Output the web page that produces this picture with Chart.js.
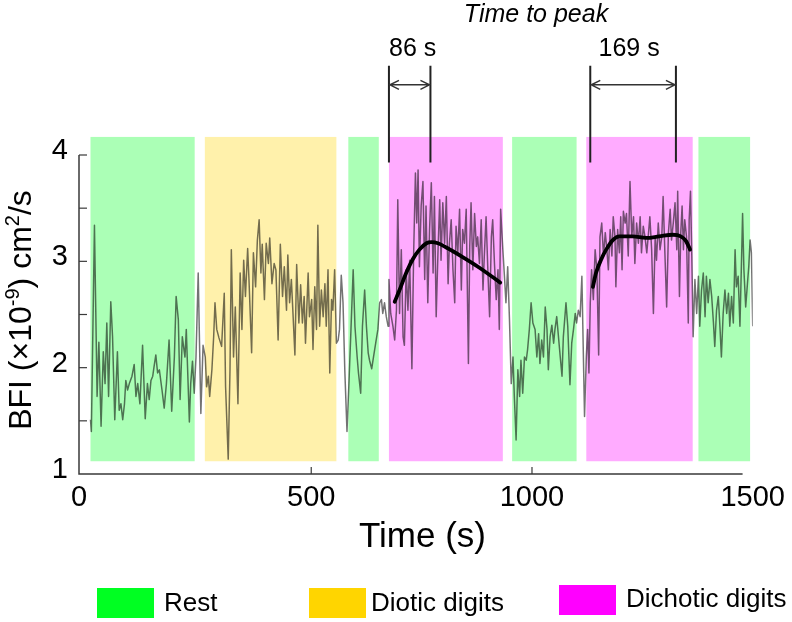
<!DOCTYPE html>
<html><head><meta charset="utf-8">
<script src="https://cdn.jsdelivr.net/npm/chart.js@4.4.1/dist/chart.umd.min.js"></script>
<style>html,body{margin:0;padding:0;background:#fff;}#wrap{width:792px;height:622px;position:relative;}</style>
</head><body><div id="wrap"><canvas id="c" width="792" height="622"></canvas></div>
<script>
// ---- data ----
const bfiTime = [0,2,9,15,19,24,29,33,37,41,46,50,55,61,65,69,73,77,80,84,88,94,99,103,107,112,118,124,129,133,137,141,144,148,152,156,162,167,172,178,184,190,194,199,203,208,214,217,224,227,231,235,239,244,250,255,260,263,267,270,275,279,282,286,291,297,303,306,312,316,319,324,328,334,339,343,347,351,356,359,365,369,374,378,382,386,389,394,398,403,406,411,416,420,425,430,435,439,444,447,451,455,459,463,467,472,476,480,484,487,493,496,501,
504,508,512,515,519,523,527,531,534,538,542,546,549,553,557,561,564,568,572,576,581,586,590,595,599,604,607,612,616,621,625,629,632,637,641,646,651,655,659,662,666,670,674,676,680,685,689,693,696,700,704,708,711,715,719,723,728,732,736,739,742,745,749,753,757,760,764,768,772,776,779,783,787,791,794,798,802,806,810,813,817,821,825,828,832,836,840,843,847,851,856,859,862,866,870,874,877,881,885,889,892,896,900,904,908,911,915,919,923,926,929,934,938,941,945,949,953,957,960,964,968,972,975,979,983,987,990,994,998,1002,
1007,1011,1015,1018,1022,1026,1030,1034,1037,1041,1045,1049,1052,1056,1060,1064,1068,1071,1077,1081,1086,1090,1094,1098,1101,1105,1109,1113,1117,1119,1123,1126,1129,1132,1135,1139,1143,1147,1151,1154,1158,1162,1166,1169,1173,1177,1181,1184,1188,1190,1194,1198,1201,1204,1207,1211,1214,1218,1222,1226,1230,1233,1237,1241,1245,1248,1252,1256,1260,1264,1267,1271,1275,1279,1282,1286,1290,1294,1297,1301,1305,1309,1313,1316,1320,1324,1328,1330,1334,1337,1340,1343,1346,1350,1354,1356,1359,1362,1365,1369,1373,1377,1380,1384,1388,1392,1395,1399,1403,1407,1411,1414,1418,1422,1426,1429,1433,1437,1441,1445,1448,1452,1456,1460,1463,1467,1471,1475,1477,1480,1484,1488,1491,1494,1497,1500];
const bfiValue = [1.51,1.40,3.34,1.73,2.24,1.45,2.15,1.85,2.42,1.73,2.62,2.29,1.51,2.15,1.60,1.66,1.51,1.66,1.88,1.79,1.85,1.92,2.03,1.73,1.85,1.66,2.21,1.52,1.85,1.70,1.88,1.92,2.01,2.12,1.95,1.98,1.79,1.62,1.85,2.26,1.59,2.10,2.67,2.45,1.70,2.29,2.10,2.36,1.49,1.85,2.06,1.76,2.10,2.89,1.57,2.21,2.10,1.82,1.92,1.73,1.98,2.29,2.61,2.36,2.28,2.20,2.70,1.82,1.14,1.98,3.11,2.10,2.57,1.66,2.89,2.36,3.01,2.67,3.12,2.83,2.14,3.08,2.76,3.20,3.39,2.89,3.16,2.64,3.17,2.98,3.22,2.79,2.98,2.92,2.26,3.16,2.67,2.95,2.54,3.06,2.61,2.83,2.48,2.12,2.97,2.42,2.78,2.42,2.67,2.23,2.89,2.48,2.64,
2.17,2.76,2.36,3.34,2.39,2.73,2.48,2.79,2.39,2.92,1.95,2.64,2.54,2.92,2.23,2.26,2.36,2.87,2.61,1.98,1.40,1.92,2.36,2.92,2.39,2.10,1.95,1.76,2.39,2.73,2.39,2.14,2.07,1.99,2.10,2.23,2.36,2.61,2.64,2.51,2.61,2.48,2.39,2.83,2.51,2.39,2.26,2.54,3.58,2.51,3.11,2.29,2.21,2.92,2.54,3.01,1.99,3.08,3.83,3.36,3.86,2.95,3.52,3.75,2.83,3.52,2.61,3.30,3.74,2.89,3.61,2.48,3.08,3.58,3.01,3.55,3.17,3.61,2.79,3.17,3.39,2.92,2.61,3.33,3.08,3.49,2.73,3.30,3.17,3.49,2.04,3.14,3.55,2.92,3.45,3.14,3.23,2.98,3.39,2.73,3.05,3.42,2.92,2.48,3.23,3.39,2.98,2.64,2.92,2.36,3.49,3.11,2.83,2.61,2.95,2.45,1.85,2.10,1.73,1.32,1.98,1.73,2.07,1.76,2.10,2.07,2.17,2.36,2.61,2.42,
2.36,2.10,2.32,2.04,2.26,2.10,2.57,2.36,1.98,2.29,2.40,2.23,2.36,2.48,2.29,2.10,1.92,2.29,2.61,2.39,1.84,2.23,2.36,2.51,2.42,2.54,2.48,2.86,1.98,1.54,2.10,2.36,1.95,2.61,2.92,2.64,3.11,2.92,2.12,3.23,3.36,3.05,3.27,3.14,2.92,3.30,3.05,3.42,3.23,2.76,3.30,3.08,3.42,2.92,3.47,3.36,3.45,3.05,3.75,3.23,3.42,2.98,3.36,3.17,3.42,3.08,3.33,3.23,3.08,3.27,3.42,3.11,2.51,3.23,3.01,3.36,3.11,3.23,3.61,3.08,2.57,3.27,3.49,3.20,3.36,3.55,3.11,3.66,2.67,3.27,3.52,3.11,3.39,3.23,2.42,3.39,3.66,3.05,2.29,2.83,2.51,2.86,2.39,2.73,2.89,2.48,2.86,2.61,2.83,2.67,2.42,2.20,2.54,2.67,2.36,2.10,2.51,2.73,2.51,2.70,2.39,2.67,2.42,3.11,2.76,2.86,2.39,3.08,3.45,2.92,2.57,2.79,2.95,3.20,3.08,2.39];

const fit1Time  = [689,700,715,730,745,761,772,787,806,843,881,928];
const fit1Value = [2.62,2.73,2.89,3.02,3.11,3.17,3.18,3.17,3.13,3.04,2.94,2.80];
const fit2Time  = [1138,1145,1157,1168,1183,1198,1228,1259,1288,1319,1337,1349,1358];
const fit2Value = [2.76,2.89,3.02,3.11,3.20,3.235,3.235,3.22,3.235,3.25,3.235,3.19,3.11];

const bandStart = [0,259,584,676,955,1123,1377];
const bandEnd   = [236,557,653,934,1101,1364,1494];
const bandCondition = ['Rest','Diotic digits','Rest','Dichotic digits','Rest','Dichotic digits','Rest'];

const legendLabels = ['Rest','Diotic digits','Dichotic digits'];
const legendColors = ['#00ff22','#ffd500','#ff00ff'];

const ttpStart  = [676,1132];
const ttpEnd    = [770,1326];
const ttpLabels = ['86 s','169 s'];
const ttpTitle  = 'Time to peak';

const xTickValues = [-26,500,1000,1500];
const xTickLabels = ['0','500','1000','1500'];
const yTickValues = [1,2,3,4];
const yMinorTicks = [1.5,2,2.5,3,3.5,4];
const xMinorTicks = [500,1000];

// ---- drawing ----
const FONT = '"Liberation Sans", Arial, Helvetica, sans-serif';
function rgba(hex,a){const n=parseInt(hex.slice(1),16);return `rgba(${(n>>16)&255},${(n>>8)&255},${n&255},${a})`;}
function condColor(c){return legendColors[legendLabels.indexOf(c)];}

const decor = {
  id:'decor',
  beforeDatasetsDraw(chart){
    const {ctx, scales:{x,y}} = chart;
    ctx.save();
    const top = y.getPixelForValue(4.17), bot = y.getPixelForValue(1.12);
    bandStart.forEach((s,i)=>{
      const l = x.getPixelForValue(s), r = x.getPixelForValue(bandEnd[i]);
      ctx.fillStyle = rgba(condColor(bandCondition[i]), 0.33);
      ctx.fillRect(l, top, r-l, bot-top);
    });
    ctx.restore();
  },
  afterDraw(chart){
    const {ctx, chartArea, scales:{x,y}} = chart;
    ctx.save();
    // axes
    ctx.strokeStyle = '#3a3a3a'; ctx.lineWidth = 1.5;
    const ax = chartArea.left, ay = y.getPixelForValue(1);
    ctx.beginPath();
    ctx.moveTo(ax, y.getPixelForValue(4)); ctx.lineTo(ax, ay);
    ctx.lineTo(x.getPixelForValue(1477), ay);
    ctx.stroke();
    ctx.lineWidth = 1.2;
    yMinorTicks.forEach(v=>{const p=y.getPixelForValue(v);ctx.beginPath();ctx.moveTo(ax,p);ctx.lineTo(ax+8,p);ctx.stroke();});
    xMinorTicks.forEach(v=>{const p=x.getPixelForValue(v);ctx.beginPath();ctx.moveTo(p,ay);ctx.lineTo(p,ay-7);ctx.stroke();});

    // time-to-peak annotations
    const yT = y.getPixelForValue(4.84), yB = y.getPixelForValue(3.93), yA = y.getPixelForValue(4.66);
    ctx.fillStyle = '#000';
    ttpStart.forEach((s,i)=>{
      const a = x.getPixelForValue(s), b = x.getPixelForValue(ttpEnd[i]);
      ctx.strokeStyle = '#222'; ctx.lineWidth = 2;
      ctx.beginPath(); ctx.moveTo(a,yT); ctx.lineTo(a,yB); ctx.moveTo(b,yT); ctx.lineTo(b,yB); ctx.stroke();
      ctx.strokeStyle = '#333'; ctx.lineWidth = 1.5;
      ctx.beginPath(); ctx.moveTo(a+1,yA); ctx.lineTo(b-1,yA);
      ctx.moveTo(a+10,yA-4.5); ctx.lineTo(a+1,yA); ctx.lineTo(a+10,yA+4.5);
      ctx.moveTo(b-10,yA-4.5); ctx.lineTo(b-1,yA); ctx.lineTo(b-10,yA+4.5);
      ctx.stroke();
      ctx.font = `25px ${FONT}`; ctx.textAlign='center'; ctx.textBaseline='alphabetic';
      ctx.fillText(ttpLabels[i], (a+b)/2 + (i===0?3:-4), yT-10);
    });
    ctx.font = `italic 25px ${FONT}`; ctx.textAlign='center';
    ctx.fillText(ttpTitle, 536, 22);

    // x title
    ctx.font = `35px ${FONT}`; ctx.textAlign='center'; ctx.textBaseline='alphabetic';
    ctx.fillText('Time (s)', 422.5, 547);

    // y title with superscripts
    const segs = [['BFI (×10',false],['-9',true],[') cm',false],['2',true],['/s',false]];
    const fm = `32px ${FONT}`, fs = `20px ${FONT}`;
    let total = 0;
    segs.forEach(([t,s])=>{ctx.font = s?fs:fm; total += ctx.measureText(t).width;});
    ctx.save();
    ctx.translate(31, 310); ctx.rotate(-Math.PI/2);
    ctx.textAlign='left';
    let xx = -total/2;
    segs.forEach(([t,s])=>{ctx.font = s?fs:fm; ctx.fillText(t, xx, s?-12:0); xx += ctx.measureText(t).width;});
    ctx.restore();

    // legend
    const boxX = [97,309,559], boxY = [588,588,585], textX = [164,371,626], textY = [611,611,607];
    legendLabels.forEach((lab,i)=>{
      ctx.fillStyle = legendColors[i];
      ctx.fillRect(boxX[i], boxY[i], 57, 30);
      ctx.fillStyle = '#000';
      ctx.font = `26px ${FONT}`; ctx.textAlign='left'; ctx.textBaseline='alphabetic';
      ctx.fillText(lab, textX[i], textY[i]);
    });
    ctx.restore();
  }
};

new Chart(document.getElementById('c'), {
  type:'line',
  data:{datasets:[
    {label:'BFI', data: bfiTime.map((t,i)=>({x:t,y:bfiValue[i]})), borderColor:'rgba(0,0,0,0.55)', borderWidth:1.5, pointRadius:0, tension:0, borderJoinStyle:'round', order:3},
    {label:'fit1', data: fit1Time.map((t,i)=>({x:t,y:fit1Value[i]})), borderColor:'#000', borderWidth:3.8, pointRadius:0, tension:0.4, cubicInterpolationMode:'monotone', borderCapStyle:'round', order:1},
    {label:'fit2', data: fit2Time.map((t,i)=>({x:t,y:fit2Value[i]})), borderColor:'#000', borderWidth:3.8, pointRadius:0, tension:0.4, cubicInterpolationMode:'monotone', borderCapStyle:'round', order:2}
  ]},
  options:{
    responsive:false, animation:false, devicePixelRatio:1,
    layout:{padding:{left:0,top:155,right:38.5,bottom:0}},
    plugins:{legend:{display:false}, tooltip:{enabled:false}},
    scales:{
      x:{type:'linear', min:-26, max:1500,
        grid:{display:false, drawTicks:false}, border:{display:false},
        afterBuildTicks(s){ s.ticks = xTickValues.map(v=>({value:v})); },
        ticks:{callback:(v,i)=>xTickLabels[i], font:{family:FONT,size:29}, color:'#000', padding:7, maxRotation:0, autoSkip:false},
        afterFit(s){ s.height = 148; }
      },
      y:{type:'linear', min:1, max:4,
        grid:{display:false, drawTicks:false}, border:{display:false},
        afterBuildTicks(s){ s.ticks = yTickValues.map(v=>({value:v})); },
        ticks:{callback:v=>String(v), font:{family:FONT,size:29}, color:'#000', padding:11, labelOffset:-4},
        afterFit(s){ s.width = 79; }
      }
    }
  },
  plugins:[decor]
});
</script></body></html>
